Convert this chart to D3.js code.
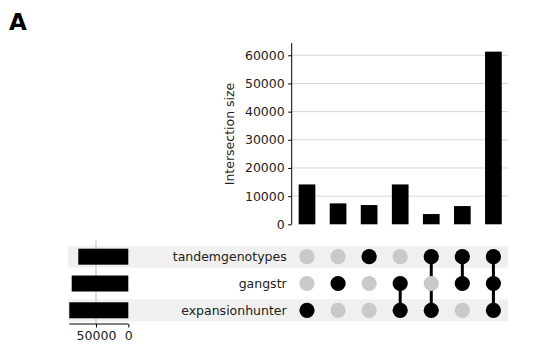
<!DOCTYPE html>
<html>
<head>
<meta charset="utf-8">
<script src="https://cdn.jsdelivr.net/npm/d3@7"></script>
<style>
  body { margin: 0; background: #fff; }
  text { font-family: "DejaVu Sans", sans-serif; }
</style>
</head>
<body>
<div id="chart"></div>
<script>
// Sets (matrix rows, top to bottom)
const sets = ["tandemgenotypes", "gangstr", "expansionhunter"];
const setTotals = [77400, 87600, 91300];

// Intersections (columns, left to right)
const memberships = [
    ["expansionhunter"],
    ["gangstr"],
    ["tandemgenotypes"],
    ["gangstr", "expansionhunter"],
    ["tandemgenotypes", "expansionhunter"],
    ["tandemgenotypes", "gangstr"],
    ["tandemgenotypes", "gangstr", "expansionhunter"]
];
const intersectionSizes = [14150, 7430, 6830, 14150, 3640, 6470, 61300];
const yTicks = [0, 10000, 20000, 30000, 40000, 50000, 60000];
const totalTicks = [50000, 0];

const W = 534, H = 346;
const svg = d3.select("#chart").append("svg")
    .attr("width", W).attr("height", H);

const cols = d3.range(memberships.length);

// Spaltenpositionen
const x = d3.scalePoint().domain(cols).range([307, 493.4]);
const barW = 16.7;

// Balkendiagramm oben
const y = d3.scaleLinear()
    .domain([0, d3.max(intersectionSizes) * 1.05])
    .range([224.3, 43]);

svg.append("g").selectAll("line")
    .data(yTicks.filter(d => d > 0))
    .join("line")
    .attr("x1", 291.7).attr("x2", 508)
    .attr("y1", d => y(d)).attr("y2", d => y(d))
    .attr("stroke", "#d6d6d6").attr("stroke-width", 1);

svg.selectAll(".bar")
    .data(intersectionSizes)
    .join("rect")
    .attr("class", "bar")
    .attr("x", (d, i) => x(i) - barW / 2)
    .attr("y", d => y(d))
    .attr("width", barW)
    .attr("height", d => y(0) - y(d))
    .attr("fill", "#000");

const yAxis = svg.append("g")
    .attr("transform", "translate(291.7,0)")
    .call(d3.axisLeft(y).tickValues(yTicks).tickFormat(d3.format("d")).tickSize(3.5).tickPadding(3.5));
yAxis.select(".domain").attr("stroke", "#000").attr("d", `M0,${y.range()[1]}V${y(0)}`);
yAxis.selectAll("text").attr("font-size", "12.5px").attr("fill", "#222")
    .attr("font-family", "DejaVu Sans, sans-serif");

svg.append("text")
    .attr("transform", "translate(234,134) rotate(-90)")
    .attr("text-anchor", "middle")
    .attr("font-size", "12.5px")
    .attr("fill", "#222")
    .text("Intersection size");

// Matrix
const r = d3.scalePoint().domain(sets).range([256.7, 310.3]);
const rowH = 22;

svg.append("g").selectAll("rect")
    .data(sets.filter((s, i) => i % 2 === 0))
    .join("rect")
    .attr("x", 68).attr("width", 440)
    .attr("y", d => r(d) - rowH / 2).attr("height", rowH)
    .attr("fill", "#f0f0f0");

svg.append("g").selectAll("text")
    .data(sets)
    .join("text")
    .attr("x", 286.7)
    .attr("y", d => r(d))
    .attr("dy", "0.36em")
    .attr("text-anchor", "end")
    .attr("font-size", "12.5px")
    .attr("fill", "#222")
    .text(d => d);

// Verbindungslinien
svg.append("g").selectAll("line")
    .data(cols.filter(i => memberships[i].length > 1))
    .join("line")
    .attr("x1", i => x(i)).attr("x2", i => x(i))
    .attr("y1", i => d3.min(memberships[i], s => r(s)))
    .attr("y2", i => d3.max(memberships[i], s => r(s)))
    .attr("stroke", "#000").attr("stroke-width", 3);

const cells = cols.flatMap(i => sets.map(s => ({col: i, set: s, on: memberships[i].includes(s)})));
svg.append("g").selectAll("circle")
    .data(cells)
    .join("circle")
    .attr("cx", d => x(d.col))
    .attr("cy", d => r(d.set))
    .attr("r", 7.6)
    .attr("fill", d => d.on ? "#000" : "#c9c9c9");

// Summenbalken links
const tx = d3.scaleLinear()
    .domain([0, d3.max(setTotals)])
    .range([128.3, 69.3]);
const totH = 16;

svg.append("line")
    .attr("x1", tx(50000)).attr("x2", tx(50000))
    .attr("y1", 240).attr("y2", 324)
    .attr("stroke", "#bdbdbd").attr("stroke-width", 1);

svg.selectAll(".total")
    .data(setTotals)
    .join("rect")
    .attr("class", "total")
    .attr("x", d => tx(d))
    .attr("y", (d, i) => r(sets[i]) - totH / 2)
    .attr("width", d => tx(0) - tx(d))
    .attr("height", totH)
    .attr("fill", "#000");

const tAxis = svg.append("g")
    .attr("transform", "translate(0,324)")
    .call(d3.axisBottom(tx).tickValues(totalTicks).tickFormat(d3.format("d")).tickSize(3.5).tickPadding(3.5));
tAxis.select(".domain").attr("stroke", "#000").attr("d", `M${tx.range()[1]},0H${tx(0)}`);
tAxis.selectAll("text").attr("font-size", "12.5px").attr("fill", "#222")
    .attr("font-family", "DejaVu Sans, sans-serif");

// Panel-Buchstabe
svg.append("text")
    .attr("x", 9).attr("y", 30)
    .attr("font-size", "23px")
    .attr("font-weight", "bold")
    .attr("fill", "#000")
    .text("A");
</script>
</body>
</html>
